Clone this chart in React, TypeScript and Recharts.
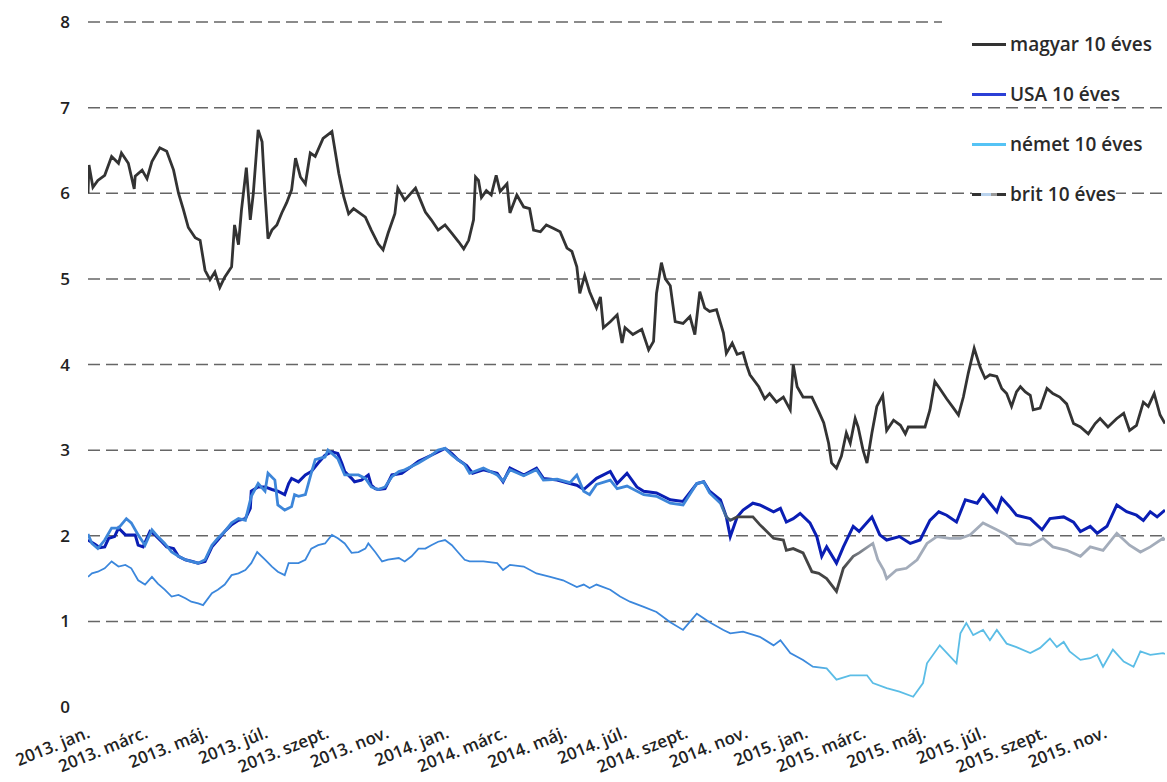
import React from 'react';
import { LineChart, Line, XAxis, YAxis, ReferenceLine } from 'recharts';

// x values: days since 2013-01-01
const START = Date.UTC(2013, 0, 1);
const toDay = (iso: string) => Math.round((Date.parse(iso) - START) / 86400000);

const tickDates = [
  '2013-01-01', '2013-03-01', '2013-05-01', '2013-07-01', '2013-09-01', '2013-11-01',
  '2014-01-01', '2014-03-01', '2014-05-01', '2014-07-01', '2014-09-01', '2014-11-01',
  '2015-01-01', '2015-03-01', '2015-05-01', '2015-07-01', '2015-09-01', '2015-11-01',
];
const tickLabels = [
  '2013. jan.', '2013. márc.', '2013. máj.', '2013. júl.', '2013. szept.', '2013. nov.',
  '2014. jan.', '2014. márc.', '2014. máj.', '2014. júl.', '2014. szept.', '2014. nov.',
  '2015. jan.', '2015. márc.', '2015. máj.', '2015. júl.', '2015. szept.', '2015. nov.',
];
const yTicks = [0, 1, 2, 3, 4, 5, 6, 7, 8];
const gridLevels = [1, 2, 3, 4, 5, 6, 7, 8];

const seriesNames = ['magyar 10 éves', 'USA 10 éves', 'német 10 éves', 'brit 10 éves'];

// [day, yield %]
const magyar10: [number, number][] = [
  [0,6.0],[1,6.33],[5,6.07],[10,6.15],[17,6.21],[24,6.43],[31,6.35],[34,6.47],[41,6.35],[47,6.05],
  [48,6.2],[55,6.27],[60,6.17],[65,6.37],[73,6.53],[80,6.49],[87,6.27],[92,6.0],[97,5.81],[102,5.6],
  [109,5.48],[114,5.45],[119,5.1],[124,4.99],[129,5.08],[134,4.9],[139,5.02],[146,5.14],[149,5.63],[153,5.4],
  [156,5.8],[161,6.3],[165,5.69],[168,5.99],[173,6.74],[177,6.6],[180,5.99],[183,5.47],[187,5.57],[192,5.63],
  [197,5.77],[202,5.89],[207,6.04],[211,6.41],[216,6.19],[221,6.11],[226,6.47],[231,6.43],[239,6.64],[248,6.72],
  [255,6.23],[260,5.96],[265,5.76],[270,5.82],[282,5.72],[288,5.57],[295,5.41],[300,5.34],[305,5.53],[312,5.76],
  [315,6.06],[322,5.92],[333,6.06],[338,5.92],[343,5.78],[349,5.69],[356,5.57],[363,5.63],[370,5.53],[377,5.43],
  [382,5.35],[387,5.45],[392,5.69],[394,6.19],[397,6.15],[400,5.95],[405,6.03],[410,5.98],[415,6.21],[419,6.02],
  [426,6.11],[429,5.77],[436,5.98],[443,5.84],[449,5.82],[453,5.57],[460,5.55],[466,5.63],[473,5.59],[480,5.55],
  [487,5.36],[492,5.32],[497,5.14],[500,4.83],[505,5.04],[510,4.85],[517,4.66],[521,4.79],[524,4.43],[531,4.5],
  [538,4.58],[543,4.25],[546,4.43],[554,4.35],[563,4.41],[570,4.17],[575,4.27],[578,4.83],[583,5.19],[587,5.0],
  [592,4.92],[597,4.5],[605,4.48],[612,4.56],[617,4.35],[622,4.85],[627,4.66],[632,4.62],[639,4.64],[646,4.37],
  [649,4.13],[655,4.25],[660,4.12],[666,4.14],[670,3.98],[673,3.88],[682,3.74],[688,3.6],[693,3.66],[700,3.56],
  [707,3.62],[714,3.47],[717,4.0],[721,3.74],[727,3.62],[736,3.62],[743,3.45],[748,3.32],[753,3.08],[756,2.85],
  [761,2.79],[766,2.93],[771,3.2],[775,3.08],[780,3.37],[783,3.27],[788,3.0],[792,2.85],[797,3.2],[802,3.51],
  [808,3.64],[812,3.23],[819,3.35],[826,3.29],[831,3.19],[834,3.27],[843,3.27],[851,3.27],[856,3.47],[861,3.8],
  [866,3.72],[873,3.6],[880,3.49],[885,3.41],[890,3.62],[895,3.9],[901,4.19],[907,3.97],[912,3.84],[917,3.88],
  [924,3.86],[929,3.72],[934,3.66],[939,3.51],[944,3.68],[948,3.74],[953,3.68],[958,3.64],[961,3.47],[968,3.49],
  [975,3.72],[981,3.66],[988,3.62],[995,3.54],[1002,3.31],[1009,3.27],[1017,3.19],[1024,3.31],[1029,3.37],[1037,3.27],
  [1046,3.37],[1053,3.43],[1059,3.23],[1066,3.29],[1073,3.56],[1078,3.51],[1084,3.66],[1090,3.41],[1095,3.31],
];

const usa10: [number, number][] = [
  [0,1.95],[7,1.90],[12,1.86],[17,1.87],[21,1.97],[27,1.99],[31,2.09],[38,2.01],[48,2.01],[51,1.89],
  [56,1.87],[63,2.05],[68,2.01],[75,1.93],[80,1.87],[87,1.85],[92,1.76],[99,1.72],[106,1.70],[112,1.68],
  [119,1.70],[126,1.87],[132,1.95],[139,2.05],[146,2.13],[153,2.18],[160,2.20],[165,2.32],[166,2.52],[173,2.57],
  [180,2.57],[187,2.54],[193,2.52],[200,2.48],[204,2.61],[207,2.67],[214,2.63],[221,2.71],[227,2.75],[234,2.85],
  [241,2.94],[248,2.98],[254,2.96],[258,2.85],[261,2.75],[268,2.67],[271,2.63],[278,2.65],[285,2.71],[288,2.59],
  [292,2.55],[295,2.54],[302,2.55],[309,2.71],[319,2.73],[329,2.81],[336,2.87],[349,2.94],[363,3.02],[370,2.96],
  [376,2.89],[385,2.82],[391,2.73],[402,2.77],[416,2.73],[422,2.63],[429,2.79],[443,2.71],[456,2.79],[463,2.67],
  [477,2.65],[490,2.61],[497,2.59],[504,2.54],[517,2.67],[531,2.75],[538,2.61],[548,2.73],[558,2.57],[565,2.52],
  [578,2.50],[592,2.42],[605,2.40],[619,2.61],[626,2.63],[632,2.52],[643,2.42],[649,2.22],[653,1.99],[660,2.22],
  [666,2.30],[676,2.38],[683,2.36],[697,2.28],[704,2.32],[710,2.16],[717,2.20],[724,2.26],[734,2.15],[741,1.99],
  [746,1.76],[751,1.87],[761,1.68],[768,1.87],[778,2.11],[784,2.05],[797,2.22],[805,2.01],[812,1.95],[825,1.99],
  [836,1.91],[846,1.95],[856,2.18],[865,2.28],[873,2.24],[883,2.16],[892,2.42],[904,2.38],[910,2.48],[917,2.38],
  [924,2.28],[929,2.44],[937,2.34],[944,2.24],[958,2.20],[970,2.07],[978,2.20],[992,2.22],[1002,2.16],[1009,2.05],
  [1019,2.11],[1026,2.03],[1036,2.11],[1046,2.36],[1056,2.28],[1066,2.24],[1073,2.18],[1080,2.28],[1087,2.22],[1095,2.30],
];

const nemet10: [number, number][] = [
  [0,1.52],[4,1.56],[10,1.58],[17,1.62],[24,1.70],[31,1.64],[38,1.66],[44,1.62],[51,1.48],[58,1.43],
  [65,1.52],[71,1.44],[78,1.37],[85,1.29],[92,1.31],[99,1.27],[105,1.23],[112,1.21],[117,1.19],[126,1.33],
  [132,1.37],[139,1.43],[146,1.54],[153,1.56],[160,1.60],[166,1.68],[172,1.81],[180,1.72],[187,1.64],[193,1.58],
  [200,1.54],[204,1.68],[214,1.68],[221,1.72],[227,1.85],[234,1.89],[241,1.91],[248,2.01],[254,1.97],[261,1.91],
  [268,1.80],[275,1.81],[282,1.85],[285,1.91],[292,1.81],[299,1.70],[305,1.72],[316,1.74],[322,1.70],[329,1.76],
  [336,1.85],[343,1.85],[349,1.89],[356,1.93],[363,1.95],[370,1.89],[376,1.81],[383,1.72],[388,1.70],[402,1.70],
  [416,1.68],[422,1.60],[429,1.66],[443,1.64],[456,1.56],[470,1.52],[483,1.48],[497,1.40],[504,1.43],[510,1.39],
  [517,1.43],[531,1.37],[541,1.29],[551,1.23],[565,1.17],[578,1.11],[592,0.99],[605,0.90],[619,1.09],[632,0.99],
  [646,0.90],[653,0.86],[666,0.88],[683,0.82],[697,0.72],[704,0.78],[714,0.63],[727,0.55],[737,0.47],[751,0.45],
  [761,0.32],[775,0.37],[792,0.37],[798,0.28],[812,0.22],[825,0.18],[839,0.12],[849,0.28],[853,0.51],[866,0.72],
  [875,0.61],[883,0.51],[887,0.86],[893,0.98],[900,0.84],[910,0.90],[917,0.78],[924,0.90],[934,0.74],[944,0.70],
  [958,0.63],[968,0.69],[978,0.80],[985,0.70],[992,0.76],[998,0.65],[1009,0.55],[1019,0.57],[1026,0.61],[1032,0.47],
  [1042,0.67],[1053,0.53],[1063,0.47],[1070,0.65],[1080,0.61],[1093,0.63],[1095,0.62],
];

const brit10: [number, number][] = [
  [0,2.02],[4,1.91],[10,1.85],[17,1.95],[24,2.09],[31,2.09],[39,2.20],[44,2.15],[51,2.01],[58,1.89],
  [65,2.07],[71,1.99],[78,1.91],[85,1.81],[92,1.76],[99,1.72],[105,1.70],[112,1.68],[119,1.72],[126,1.89],
  [132,1.97],[139,2.05],[146,2.15],[153,2.20],[160,2.18],[166,2.46],[173,2.61],[180,2.52],[183,2.73],[190,2.65],
  [193,2.36],[200,2.30],[207,2.34],[210,2.48],[214,2.46],[221,2.48],[227,2.73],[231,2.89],[241,2.92],[244,3.0],
  [248,2.96],[254,2.90],[261,2.71],[268,2.71],[275,2.71],[282,2.67],[288,2.57],[295,2.54],[302,2.57],[309,2.69],
  [316,2.75],[322,2.77],[336,2.85],[349,2.94],[356,3.0],[363,3.02],[370,2.94],[376,2.89],[383,2.83],[388,2.73],
  [402,2.79],[416,2.71],[422,2.64],[429,2.77],[443,2.70],[456,2.77],[463,2.65],[477,2.66],[490,2.62],[497,2.71],
  [504,2.52],[510,2.48],[517,2.60],[531,2.65],[538,2.55],[548,2.58],[565,2.48],[578,2.46],[592,2.38],[605,2.36],
  [619,2.61],[626,2.63],[632,2.50],[643,2.38],[649,2.22],[653,2.18],[660,2.22],[676,2.22],[683,2.13],[697,1.97],
  [707,1.95],[710,1.83],[717,1.85],[727,1.80],[736,1.58],[743,1.56],[751,1.50],[761,1.35],[768,1.62],[778,1.76],
  [784,1.80],[798,1.91],[803,1.72],[809,1.60],[812,1.50],[822,1.60],[832,1.62],[843,1.72],[853,1.91],[863,1.99],
  [876,1.97],[887,1.97],[897,2.01],[910,2.15],[924,2.07],[934,2.01],[944,1.91],[958,1.89],[971,1.97],[981,1.87],
  [995,1.83],[1009,1.76],[1019,1.87],[1032,1.83],[1046,2.03],[1059,1.89],[1070,1.81],[1080,1.87],[1093,1.97],[1095,1.95],
];

const FONT = '"Open Sans", "Liberation Sans", sans-serif';
const tickDays = tickDates.map(toDay);
const toRows = (pts: [number, number][]) => pts.map(([day, v]) => ({ day, v }));

function DateTick(props: any) {
  const { x, y, payload } = props;
  const i = tickDays.indexOf(payload.value);
  const ax = x + 3;
  const ay = y + 22;
  return (
    <g transform={`translate(${ax},${ay}) rotate(-22)`}>
      <text
        x={0}
        y={0}
        textAnchor="end"
        fill="#222"
        fontSize={17}
        fontWeight={600}
        fontFamily={FONT}
      >
        {tickLabels[i]}
      </text>
    </g>
  );
}

function LegendSwatch({ kind }: { kind: number }) {
  const base: React.CSSProperties = { height: 3, width: 34, marginRight: 4 };
  if (kind === 0) return <div style={{ ...base, background: '#333' }} />;
  if (kind === 1) return <div style={{ ...base, background: '#2b3fd6' }} />;
  if (kind === 2) return <div style={{ ...base, background: '#55c3f5' }} />;
  return (
    <div style={{ ...base, display: 'flex' }}>
      <div style={{ width: 9, background: '#333' }} />
      <div style={{ width: 10, background: '#b9d3ee' }} />
      <div style={{ width: 6, background: '#999' }} />
      <div style={{ width: 9, background: '#333' }} />
    </div>
  );
}

const legendTops = [44, 94, 144, 194];

export default function App() {
  const hu = toRows(magyar10);
  const us = toRows(usa10);
  const de = toRows(nemet10);
  const uk = toRows(brit10);
  return (
    <div style={{ position: 'relative', width: 1167, height: 782, background: '#fff' }}>
      <style>{'body{margin:0;background:#fff}'}</style>
      <LineChart width={1167} height={782} margin={{ top: 22, right: 2, bottom: 0, left: 28 }}>
        <defs>
          <linearGradient id="deGrad" x1="0" y1="0" x2="1" y2="0">
            <stop offset="0" stopColor="#3b87dc" />
            <stop offset="0.665" stopColor="#3b87dc" />
            <stop offset="0.69" stopColor="#5bbde6" />
            <stop offset="1" stopColor="#5bbde6" />
          </linearGradient>
          <linearGradient id="ukGrad" x1="0" y1="0" x2="1" y2="0">
            <stop offset="0" stopColor="#3d86d9" />
            <stop offset="0.585" stopColor="#3d86d9" />
            <stop offset="0.6" stopColor="#444" />
            <stop offset="0.7" stopColor="#444" />
            <stop offset="0.73" stopColor="#a3acba" />
            <stop offset="1" stopColor="#a3acba" />
          </linearGradient>
        </defs>
        <XAxis
          type="number"
          dataKey="day"
          domain={[0, 1095]}
          ticks={tickDays}
          interval={0}
          height={75}
          axisLine={false}
          tickLine={false}
          tick={<DateTick />}
          allowDataOverflow
        />
        <YAxis
          type="number"
          domain={[0, 8]}
          ticks={yTicks}
          width={60}
          axisLine={false}
          tickLine={false}
          dx={-10}
          tick={{ fill: '#222', fontSize: 17, fontWeight: 600, fontFamily: FONT }}
        />
        {gridLevels.map((g) => (
          <ReferenceLine key={g} y={g} stroke="#666" strokeWidth={1.5} strokeDasharray="12 6" />
        ))}
        <Line data={de} dataKey="v" name={seriesNames[2]} type="linear" stroke="url(#deGrad)" strokeWidth={1.8} dot={false} isAnimationActive={false} />
        <Line data={us} dataKey="v" name={seriesNames[1]} type="linear" stroke="#0a1eb4" strokeWidth={3} dot={false} isAnimationActive={false} />
        <Line data={uk} dataKey="v" name={seriesNames[3]} type="linear" stroke="url(#ukGrad)" strokeWidth={2.8} dot={false} isAnimationActive={false} />
        <Line data={hu} dataKey="v" name={seriesNames[0]} type="linear" stroke="#333" strokeWidth={2.8} dot={false} isAnimationActive={false} />
      </LineChart>
      <div style={{ position: 'absolute', left: 942, top: 14, width: 225, height: 16, background: '#fff' }} />
      {seriesNames.map((n, i) => (
        <div
          key={n}
          style={{
            position: 'absolute',
            left: 972,
            top: legendTops[i] - 13,
            height: 26,
            display: 'flex',
            alignItems: 'center',
            background: '#fff',
            fontFamily: FONT,
            fontWeight: 600,
            fontSize: 19,
            color: '#2a2a2a',
            whiteSpace: 'nowrap',
          }}
        >
          <LegendSwatch kind={i} />
          <span>{n}</span>
        </div>
      ))}
    </div>
  );
}
